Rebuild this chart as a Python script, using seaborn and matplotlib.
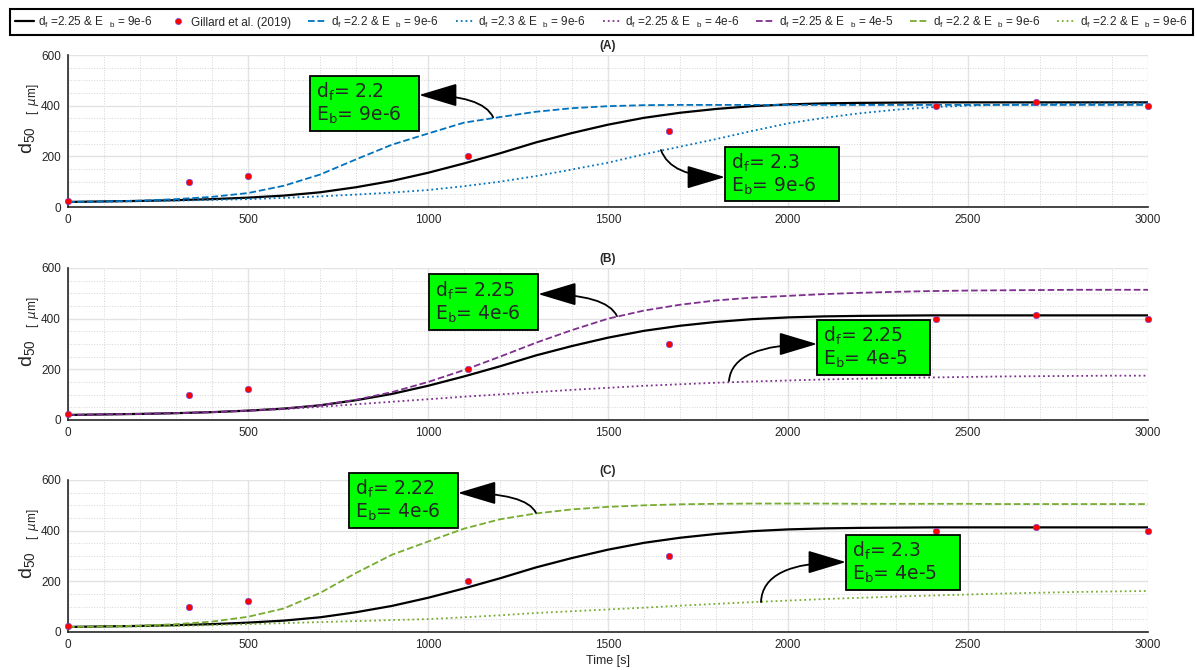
import matplotlib
matplotlib.use('Agg')
import matplotlib.pyplot as plt
from matplotlib.patches import Rectangle
from matplotlib.ticker import MultipleLocator
import seaborn as sns

# time axis [s]
time = list(range(0, 3001, 100))

# reference run d_f = 2.25, E_b = 9e-6 (same in all panels)
d_ref = [20, 22, 24, 27, 31, 37, 45, 58, 78, 103, 135, 172, 212, 255, 292, 325,
         352, 372, 387, 398, 405, 409, 411, 412, 413, 413, 413, 413, 413, 413, 413]

# panel A
a_dash = [20, 22, 25, 31, 40, 55, 84, 128, 188, 246, 290, 333, 355, 376, 390, 398,
          402, 403, 403, 403, 403, 403, 403, 403, 403, 403, 403, 403, 403, 403, 403]
a_dot = [20, 21, 23, 25, 28, 31, 36, 42, 49, 57, 67, 82, 100, 122, 148, 175,
         208, 238, 268, 300, 330, 352, 370, 384, 394, 400, 404, 406, 408, 409, 410]

# panel B
b_dash = [20, 22, 24, 27, 31, 37, 45, 58, 80, 110, 150, 197, 250, 305, 355, 400,
          432, 455, 472, 483, 490, 497, 502, 506, 509, 511, 512, 513, 514, 514, 514]
b_dot = [20, 22, 24, 27, 31, 36, 43, 52, 62, 72, 82, 92, 101, 110, 119, 127,
         135, 141, 147, 152, 156, 160, 163, 166, 168, 170, 172, 173, 174, 175, 175]

# panel C
c_dash = [20, 22, 25, 31, 41, 60, 93, 154, 233, 305, 357, 408, 445, 468, 484, 494,
          500, 504, 506, 507, 507, 507, 506, 506, 506, 506, 505, 505, 505, 505, 505]
c_dot = [20, 21, 22, 24, 27, 31, 35, 39, 43, 47, 51, 58, 66, 75, 82, 89,
         96, 104, 111, 118, 124, 130, 135, 140, 144, 148, 152, 155, 158, 160, 162]

# measurements
gil_t = [0, 335, 500, 1110, 1670, 2410, 2690, 3000]
gil_d = [25, 100, 122, 200, 300, 400, 415, 400]

labels = [r'd$_\mathregular{f}$ =2.25 & E  $_\mathregular{b}$ = 9e-6',
          'Gillard et al. (2019)',
          r'd$_\mathregular{f}$ =2.2 & E  $_\mathregular{b}$ = 9e-6',
          r'd$_\mathregular{f}$ =2.3 & E  $_\mathregular{b}$ = 9e-6',
          r'd$_\mathregular{f}$ =2.25 & E  $_\mathregular{b}$ = 4e-6',
          r'd$_\mathregular{f}$ =2.25 & E  $_\mathregular{b}$ = 4e-5',
          r'd$_\mathregular{f}$ =2.2 & E  $_\mathregular{b}$ = 9e-6',
          r'd$_\mathregular{f}$ =2.2 & E  $_\mathregular{b}$ = 9e-6']

blue = '#0072BD'
purple = '#7E2F8E'
green = '#77AC30'

sns.set_style('white')
plt.rcParams['font.family'] = ['Liberation Sans', 'DejaVu Sans']
plt.rcParams['axes.edgecolor'] = '#262626'

fig = plt.figure(figsize=(11.97, 6.70), dpi=100)
left, width, height = 68 / 1197, 1080 / 1197, 152 / 670
bottoms = [1 - 207 / 670, 1 - 420 / 670, 1 - 632 / 670]
axes = [fig.add_axes([left, b, width, height]) for b in bottoms]

panels = [('(A)', a_dash, a_dot, blue),
          ('(B)', b_dash, b_dot, purple),
          ('(C)', c_dash, c_dot, green)]

handles = {}
for ax, (title, dash, dot, col) in zip(axes, panels):
    l0 = sns.lineplot(x=time, y=d_ref, ax=ax, color='black', lw=1.6).lines[-1]
    l1 = sns.lineplot(x=time, y=dash, ax=ax, color=col, lw=1.3, linestyle='--').lines[-1]
    l2 = sns.lineplot(x=time, y=dot, ax=ax, color=col, lw=1.3, linestyle=':').lines[-1]
    sns.scatterplot(x=gil_t, y=gil_d, ax=ax, color='red', edgecolor='#5050ff',
                    linewidth=0.4, s=22, zorder=5, clip_on=False)
    handles[title] = (l0, l1, l2)

    ax.set_xlim(0, 3000)
    ax.set_ylim(0, 600)
    ax.xaxis.set_major_locator(MultipleLocator(500))
    ax.xaxis.set_minor_locator(MultipleLocator(100))
    ax.yaxis.set_major_locator(MultipleLocator(200))
    ax.yaxis.set_minor_locator(MultipleLocator(50))
    ax.grid(which='major', color='#e3e3e3', lw=1.0)
    ax.grid(which='minor', color='#d4d4d4', lw=0.7, linestyle=':')
    ax.set_axisbelow(True)
    for s in ['top', 'right']:
        ax.spines[s].set_visible(False)
    for s in ['left', 'bottom']:
        ax.spines[s].set_linewidth(1.2)
    ax.tick_params(which='major', direction='in', length=8, width=1.2,
                   labelsize=8.5, pad=5, colors='#262626')
    ax.tick_params(which='minor', length=0)
    ax.set_title(title, fontsize=8.5, fontweight='bold', pad=4)
    ax.set_ylabel(r'd$_\mathregular{50}$', fontsize=14)
    ax.yaxis.set_label_coords(-0.028, 0.44)
    ax.text(-0.0325, 0.71, r'[  $\mu$m]', transform=ax.transAxes, rotation=90,
            fontsize=8.5, ha='center', va='center')
    ax.set_xlabel('')

axes[2].set_xlabel('Time [s]', fontsize=9, labelpad=3)

# text boxes: panel, text, box (x0, x1, y0, y1), arrow head, arrow tail, angle at tail
notes = [
    (0, '2.2', '9e-6', (672, 975, 300, 517), (975, 442), (1181, 354), 115),
    (0, '2.3', '9e-6', (1825, 2142, 24, 237), (1825, 118), (1647, 225), -70),
    (1, '2.25', '4e-6', (1003, 1306, 355, 576), (1306, 497), (1525, 410), 115),
    (1, '2.25', '4e-5', (2081, 2394, 178, 395), (2081, 300), (1836, 154), 85),
    (2, '2.22', '4e-6', (781, 1083, 410, 628), (1083, 549), (1300, 470), 115),
    (2, '2.3', '4e-5', (2161, 2478, 166, 383), (2161, 276), (1925, 118), 88),
]
for i, df, eb, box, head, tail, ang in notes:
    ax = axes[i]
    x0, x1, y0, y1 = box
    ax.add_patch(Rectangle((x0, y0), x1 - x0, y1 - y0, fc='#00ff00', ec='black',
                           lw=1.3, zorder=6, clip_on=False))
    txt = r'd$_\mathregular{f}$= ' + df + '\n' + r'E$_\mathregular{b}$= ' + eb
    ax.text(x0 + 17, (y0 + y1) / 2, txt, fontsize=13.5, family='DejaVu Sans',
            ha='left', va='center', zorder=7, linespacing=1.1)
    ax.annotate('', xy=head, xytext=tail, zorder=8, annotation_clip=False,
                arrowprops=dict(arrowstyle='-|>,head_length=1.5,head_width=0.45',
                                connectionstyle='angle3,angleA=%d,angleB=0' % ang,
                                color='black', lw=1.3, mutation_scale=16,
                                shrinkA=0, shrinkB=0))

for ax in axes:
    if ax.get_legend() is not None:
        ax.get_legend().remove()

lA, lB, lC = handles['(A)'], handles['(B)'], handles['(C)']
gil_handle = plt.Line2D([], [], marker='o', ls='', color='red', markeredgecolor='#5050ff',
                        markeredgewidth=0.4, markersize=4.5)
leg_handles = [lA[0], gil_handle, lA[1], lA[2], lB[2], lB[1], lC[1], lC[2]]
leg = fig.legend(leg_handles, labels, loc='lower left', ncol=8, mode='expand',
                 bbox_to_anchor=(10 / 1197, 1 - 35 / 670, 1183 / 1197, 27 / 670),
                 fontsize=8.5, frameon=True, fancybox=False, edgecolor='black',
                 framealpha=1, borderaxespad=0, handlelength=1.6, handletextpad=0.3,
                 borderpad=0.45)
leg.get_frame().set_linewidth(1.5)

fig.savefig('out.png', dpi=100)
